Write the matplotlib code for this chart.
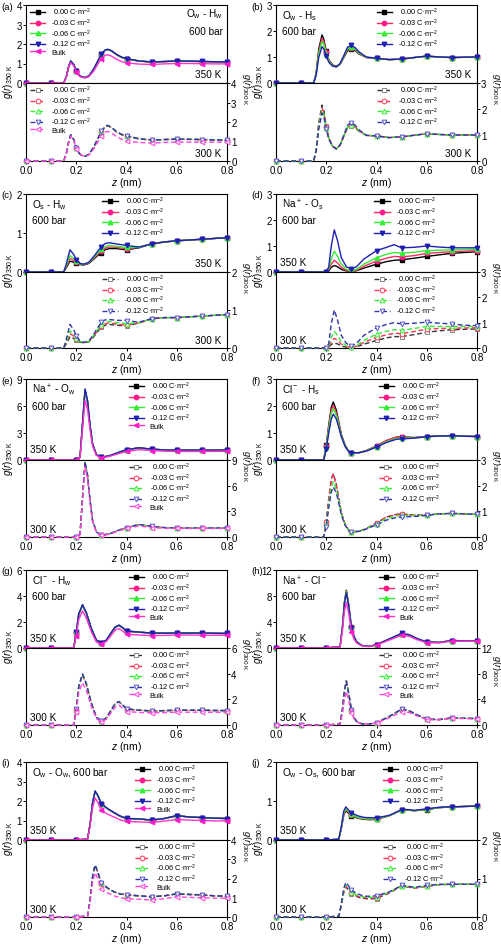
import matplotlib
matplotlib.use('Agg')
import matplotlib.pyplot as plt

plt.rcParams['font.family'] = ['Liberation Sans', 'DejaVu Sans']
plt.rcParams['mathtext.fontset'] = 'custom'
plt.rcParams['mathtext.rm'] = 'Liberation Sans'
plt.rcParams['mathtext.it'] = 'Liberation Sans:italic'

# ---------------- data ----------------
series_labels = [' 0.00 C·m$^{-2}$', '-0.03 C·m$^{-2}$', '-0.06 C·m$^{-2}$', '-0.12 C·m$^{-2}$', 'Bulk']
x_ticks = [0.0, 0.2, 0.4, 0.6, 0.8]

# (a) Ow - Hw
a_z = [0.0, 0.1, 0.15, 0.16, 0.17, 0.178, 0.19, 0.2, 0.21, 0.22, 0.235, 0.25, 0.27, 0.29, 0.3, 0.315, 0.325, 0.34, 0.36, 0.38, 0.4, 0.45, 0.5, 0.55, 0.6, 0.65, 0.7, 0.75, 0.8]
a350_000 = [0, 0, 0, 0.3, 0.85, 1.12, 0.95, 0.62, 0.42, 0.33, 0.28, 0.36, 0.72, 1.22, 1.47, 1.68, 1.72, 1.65, 1.46, 1.32, 1.24, 1.13, 1.08, 1.1, 1.13, 1.12, 1.1, 1.09, 1.08]
a350_003 = [0, 0, 0, 0.3, 0.84, 1.11, 0.94, 0.61, 0.41, 0.32, 0.28, 0.35, 0.71, 1.21, 1.46, 1.67, 1.71, 1.64, 1.45, 1.31, 1.23, 1.12, 1.07, 1.1, 1.12, 1.11, 1.1, 1.09, 1.08]
a350_006 = [0, 0, 0, 0.3, 0.85, 1.12, 0.95, 0.62, 0.42, 0.33, 0.28, 0.36, 0.72, 1.22, 1.47, 1.68, 1.72, 1.65, 1.46, 1.32, 1.24, 1.13, 1.08, 1.1, 1.13, 1.12, 1.1, 1.09, 1.08]
a350_012 = [0, 0, 0, 0.31, 0.86, 1.13, 0.96, 0.62, 0.42, 0.33, 0.28, 0.36, 0.73, 1.23, 1.48, 1.69, 1.73, 1.66, 1.47, 1.33, 1.25, 1.13, 1.08, 1.1, 1.13, 1.12, 1.11, 1.09, 1.08]
a350_bulk = [0, 0, 0, 0.28, 0.8, 1.05, 0.88, 0.56, 0.38, 0.3, 0.26, 0.32, 0.62, 1.05, 1.25, 1.42, 1.45, 1.38, 1.22, 1.1, 1.03, 0.97, 0.95, 0.98, 1.0, 1.0, 0.99, 0.98, 0.98]
a300_000 = [0, 0, 0, 0.35, 1.0, 1.34, 1.1, 0.68, 0.42, 0.3, 0.25, 0.33, 0.72, 1.25, 1.52, 1.76, 1.82, 1.72, 1.5, 1.36, 1.28, 1.14, 1.07, 1.1, 1.12, 1.11, 1.1, 1.08, 1.07]
a300_003 = [0, 0, 0, 0.35, 0.99, 1.33, 1.09, 0.67, 0.42, 0.3, 0.25, 0.33, 0.71, 1.24, 1.51, 1.75, 1.81, 1.71, 1.49, 1.35, 1.27, 1.13, 1.07, 1.1, 1.12, 1.11, 1.1, 1.08, 1.07]
a300_006 = [0, 0, 0, 0.35, 1.0, 1.34, 1.1, 0.68, 0.42, 0.3, 0.25, 0.33, 0.72, 1.25, 1.52, 1.76, 1.82, 1.72, 1.5, 1.36, 1.28, 1.14, 1.07, 1.1, 1.12, 1.11, 1.1, 1.08, 1.07]
a300_012 = [0, 0, 0, 0.36, 1.01, 1.35, 1.11, 0.68, 0.42, 0.3, 0.25, 0.33, 0.73, 1.26, 1.53, 1.77, 1.83, 1.73, 1.51, 1.37, 1.29, 1.14, 1.08, 1.1, 1.12, 1.11, 1.1, 1.08, 1.07]
a300_bulk = [0, 0, 0, 0.34, 0.97, 1.28, 1.05, 0.64, 0.4, 0.29, 0.24, 0.3, 0.63, 1.07, 1.3, 1.48, 1.52, 1.44, 1.25, 1.12, 1.02, 0.95, 0.92, 0.95, 0.97, 0.97, 0.97, 0.97, 0.97]

# (b) Ow - Hs
b_z = [0.0, 0.1, 0.15, 0.16, 0.17, 0.183, 0.19, 0.2, 0.21, 0.225, 0.24, 0.255, 0.27, 0.285, 0.3, 0.315, 0.33, 0.36, 0.4, 0.45, 0.5, 0.55, 0.6, 0.65, 0.7, 0.75, 0.8]
b350_000 = [0, 0, 0, 0.4, 1.3, 1.85, 1.7, 1.22, 0.9, 0.7, 0.64, 0.72, 0.98, 1.25, 1.32, 1.25, 1.12, 0.98, 0.95, 0.9, 0.92, 0.98, 1.03, 1.0, 0.98, 0.99, 1.0]
b350_003 = [0, 0, 0, 0.38, 1.2, 1.72, 1.6, 1.18, 0.88, 0.68, 0.62, 0.72, 1.0, 1.3, 1.36, 1.28, 1.14, 0.98, 0.95, 0.9, 0.92, 0.98, 1.03, 1.0, 0.98, 0.99, 1.0]
b350_006 = [0, 0, 0, 0.35, 1.12, 1.6, 1.5, 1.13, 0.85, 0.67, 0.62, 0.73, 1.02, 1.33, 1.39, 1.31, 1.16, 0.99, 0.95, 0.9, 0.92, 0.98, 1.03, 1.0, 0.98, 0.99, 1.0]
b350_012 = [0, 0, 0, 0.3, 0.98, 1.4, 1.32, 1.05, 0.8, 0.65, 0.62, 0.75, 1.06, 1.38, 1.45, 1.36, 1.2, 1.0, 0.95, 0.9, 0.92, 0.98, 1.04, 1.0, 0.98, 0.99, 1.0]
b300_000 = [0, 0, 0, 0.45, 1.45, 2.15, 1.95, 1.35, 0.9, 0.58, 0.47, 0.6, 0.95, 1.28, 1.35, 1.28, 1.15, 0.98, 0.97, 0.9, 0.93, 0.99, 1.05, 1.02, 1.0, 1.0, 1.0]
b300_003 = [0, 0, 0, 0.43, 1.38, 2.05, 1.87, 1.3, 0.88, 0.57, 0.47, 0.6, 0.96, 1.3, 1.37, 1.3, 1.16, 0.98, 0.97, 0.9, 0.93, 0.99, 1.05, 1.02, 1.0, 1.0, 1.0]
b300_006 = [0, 0, 0, 0.41, 1.3, 1.95, 1.8, 1.26, 0.86, 0.56, 0.46, 0.61, 0.98, 1.33, 1.4, 1.32, 1.17, 0.99, 0.97, 0.9, 0.93, 0.99, 1.05, 1.02, 1.0, 1.0, 1.0]
b300_012 = [0, 0, 0, 0.38, 1.22, 1.85, 1.72, 1.22, 0.84, 0.56, 0.46, 0.62, 1.0, 1.38, 1.48, 1.38, 1.2, 0.99, 0.96, 0.9, 0.93, 0.99, 1.05, 1.02, 1.0, 1.0, 1.0]

# (c) Os - Hw
c_z = [0.0, 0.1, 0.15, 0.16, 0.175, 0.19, 0.2, 0.215, 0.23, 0.25, 0.27, 0.29, 0.3, 0.315, 0.33, 0.36, 0.4, 0.45, 0.5, 0.55, 0.6, 0.65, 0.7, 0.75, 0.8]
c350_000 = [0, 0, 0, 0.1, 0.28, 0.25, 0.22, 0.19, 0.18, 0.22, 0.33, 0.45, 0.5, 0.57, 0.6, 0.6, 0.57, 0.62, 0.72, 0.77, 0.8, 0.82, 0.84, 0.86, 0.88]
c350_003 = [0, 0, 0, 0.12, 0.35, 0.3, 0.25, 0.2, 0.19, 0.23, 0.35, 0.48, 0.54, 0.61, 0.64, 0.63, 0.6, 0.63, 0.72, 0.77, 0.8, 0.82, 0.84, 0.86, 0.88]
c350_006 = [0, 0, 0, 0.15, 0.42, 0.35, 0.28, 0.21, 0.2, 0.24, 0.37, 0.52, 0.58, 0.65, 0.68, 0.66, 0.63, 0.63, 0.72, 0.77, 0.8, 0.82, 0.84, 0.86, 0.88]
c350_012 = [0, 0, 0, 0.2, 0.57, 0.45, 0.32, 0.22, 0.2, 0.25, 0.4, 0.57, 0.65, 0.73, 0.75, 0.72, 0.68, 0.64, 0.72, 0.77, 0.8, 0.82, 0.84, 0.86, 0.88]
c300_000 = [0, 0, 0, 0.1, 0.3, 0.25, 0.2, 0.15, 0.14, 0.16, 0.3, 0.47, 0.55, 0.6, 0.62, 0.6, 0.58, 0.66, 0.77, 0.8, 0.8, 0.82, 0.84, 0.86, 0.88]
c300_003 = [0, 0, 0, 0.13, 0.38, 0.31, 0.23, 0.16, 0.14, 0.17, 0.32, 0.5, 0.58, 0.64, 0.66, 0.63, 0.6, 0.66, 0.77, 0.8, 0.8, 0.82, 0.84, 0.86, 0.88]
c300_006 = [0, 0, 0, 0.16, 0.45, 0.36, 0.26, 0.17, 0.15, 0.17, 0.34, 0.53, 0.62, 0.68, 0.7, 0.67, 0.64, 0.67, 0.77, 0.8, 0.8, 0.82, 0.84, 0.86, 0.88]
c300_012 = [0, 0, 0, 0.22, 0.62, 0.48, 0.32, 0.18, 0.15, 0.18, 0.37, 0.58, 0.68, 0.74, 0.75, 0.73, 0.72, 0.68, 0.77, 0.8, 0.8, 0.82, 0.84, 0.86, 0.88]

# (d) Na+ - Os
d_z = [0.0, 0.1, 0.2, 0.21, 0.22, 0.232, 0.245, 0.26, 0.28, 0.3, 0.32, 0.35, 0.4, 0.44, 0.47, 0.5, 0.55, 0.6, 0.65, 0.7, 0.75, 0.8]
d350_000 = [0, 0, 0, 0.05, 0.18, 0.25, 0.2, 0.1, 0.04, 0.02, 0.05, 0.15, 0.3, 0.4, 0.45, 0.47, 0.53, 0.6, 0.66, 0.72, 0.75, 0.78]
d350_003 = [0, 0, 0, 0.08, 0.3, 0.45, 0.35, 0.18, 0.06, 0.03, 0.07, 0.22, 0.42, 0.53, 0.6, 0.58, 0.63, 0.72, 0.75, 0.78, 0.8, 0.82]
d350_006 = [0, 0, 0, 0.12, 0.5, 0.8, 0.6, 0.3, 0.1, 0.04, 0.1, 0.3, 0.55, 0.68, 0.75, 0.72, 0.76, 0.82, 0.84, 0.85, 0.86, 0.88]
d350_012 = [0, 0, 0, 0.2, 1.0, 1.62, 1.2, 0.55, 0.2, 0.12, 0.2, 0.5, 0.82, 0.95, 1.05, 0.93, 0.95, 1.0, 0.96, 0.93, 0.93, 0.93]
d300_000 = [0, 0, 0, 0.04, 0.14, 0.2, 0.16, 0.08, 0.03, 0.02, 0.05, 0.15, 0.3, 0.4, 0.45, 0.45, 0.53, 0.62, 0.68, 0.72, 0.74, 0.75]
d300_003 = [0, 0, 0, 0.07, 0.26, 0.38, 0.3, 0.15, 0.05, 0.03, 0.07, 0.22, 0.42, 0.52, 0.58, 0.57, 0.65, 0.75, 0.77, 0.78, 0.79, 0.8]
d300_006 = [0, 0, 0, 0.1, 0.42, 0.65, 0.5, 0.25, 0.08, 0.04, 0.1, 0.3, 0.55, 0.66, 0.72, 0.7, 0.77, 0.85, 0.85, 0.85, 0.85, 0.85]
d300_012 = [0, 0, 0, 0.18, 0.95, 1.5, 1.1, 0.5, 0.18, 0.08, 0.18, 0.5, 0.8, 0.93, 1.0, 0.95, 0.98, 1.02, 0.98, 0.95, 0.9, 0.88]

# (e) Na+ - Ow
e_z = [0.0, 0.1, 0.2, 0.215, 0.225, 0.235, 0.245, 0.255, 0.265, 0.28, 0.3, 0.33, 0.37, 0.4, 0.45, 0.5, 0.55, 0.6, 0.65, 0.7, 0.75, 0.8]
e350_000 = [0, 0, 0, 0.3, 4.0, 7.8, 6.5, 3.8, 1.8, 0.6, 0.3, 0.45, 0.85, 1.15, 1.35, 1.2, 1.12, 1.1, 1.1, 1.1, 1.1, 1.1]
e350_003 = [0, 0, 0, 0.3, 3.9, 7.7, 6.4, 3.7, 1.75, 0.6, 0.3, 0.45, 0.85, 1.14, 1.34, 1.2, 1.12, 1.1, 1.1, 1.1, 1.1, 1.1]
e350_006 = [0, 0, 0, 0.3, 3.95, 7.75, 6.45, 3.75, 1.78, 0.6, 0.3, 0.45, 0.85, 1.15, 1.35, 1.2, 1.12, 1.1, 1.1, 1.1, 1.1, 1.1]
e350_012 = [0, 0, 0, 0.32, 4.1, 7.9, 6.6, 3.85, 1.8, 0.6, 0.3, 0.45, 0.86, 1.15, 1.36, 1.21, 1.12, 1.1, 1.1, 1.1, 1.1, 1.1]
e350_bulk = [0, 0, 0, 0.25, 3.4, 6.6, 5.6, 3.3, 1.55, 0.5, 0.25, 0.38, 0.72, 0.95, 1.15, 1.05, 0.98, 0.95, 0.95, 0.95, 0.96, 0.97]
e300_000 = [0, 0, 0, 0.3, 4.6, 8.7, 7.2, 4.2, 1.9, 0.6, 0.2, 0.35, 0.8, 1.1, 1.45, 1.22, 1.1, 1.05, 1.05, 1.05, 1.05, 1.05]
e300_003 = [0, 0, 0, 0.3, 4.55, 8.65, 7.15, 4.15, 1.88, 0.6, 0.2, 0.35, 0.8, 1.1, 1.44, 1.22, 1.1, 1.05, 1.05, 1.05, 1.05, 1.05]
e300_006 = [0, 0, 0, 0.3, 4.6, 8.7, 7.2, 4.2, 1.9, 0.6, 0.2, 0.35, 0.8, 1.1, 1.45, 1.22, 1.1, 1.05, 1.05, 1.05, 1.05, 1.05]
e300_012 = [0, 0, 0, 0.31, 4.65, 8.8, 7.25, 4.25, 1.92, 0.6, 0.2, 0.35, 0.8, 1.1, 1.46, 1.23, 1.1, 1.05, 1.05, 1.05, 1.05, 1.05]
e300_bulk = [0, 0, 0, 0.28, 4.3, 8.2, 6.8, 4.0, 1.8, 0.55, 0.18, 0.32, 0.72, 1.0, 1.3, 1.1, 1.02, 1.0, 1.0, 1.0, 1.0, 1.0]

# (f) Cl- - Hs
f_z = [0.0, 0.1, 0.19, 0.2, 0.21, 0.22, 0.228, 0.24, 0.25, 0.26, 0.275, 0.29, 0.3, 0.33, 0.36, 0.4, 0.44, 0.48, 0.5, 0.55, 0.6, 0.65, 0.7, 0.75, 0.8]
f350_000 = [0, 0, 0, 0.55, 1.3, 1.95, 2.15, 1.85, 1.4, 0.95, 0.55, 0.32, 0.27, 0.27, 0.35, 0.52, 0.72, 0.85, 0.86, 0.83, 0.87, 0.89, 0.9, 0.88, 0.87]
f350_003 = [0, 0, 0, 0.52, 1.25, 1.85, 2.02, 1.75, 1.35, 0.92, 0.53, 0.31, 0.27, 0.27, 0.35, 0.52, 0.72, 0.85, 0.86, 0.83, 0.87, 0.89, 0.9, 0.88, 0.87]
f350_006 = [0, 0, 0, 0.48, 1.15, 1.72, 1.9, 1.65, 1.28, 0.9, 0.52, 0.31, 0.27, 0.27, 0.34, 0.5, 0.68, 0.8, 0.82, 0.82, 0.86, 0.89, 0.9, 0.88, 0.87]
f350_012 = [0, 0, 0, 0.4, 1.0, 1.52, 1.7, 1.52, 1.2, 0.86, 0.5, 0.3, 0.27, 0.27, 0.33, 0.48, 0.65, 0.77, 0.78, 0.81, 0.86, 0.89, 0.9, 0.88, 0.87]
f300_000 = [0, 0, 0, 0.6, 1.5, 2.25, 2.48, 2.05, 1.5, 0.95, 0.5, 0.25, 0.2, 0.22, 0.33, 0.55, 0.78, 0.88, 0.9, 0.85, 0.86, 0.9, 0.92, 0.9, 0.88]
f300_003 = [0, 0, 0, 0.6, 1.48, 2.22, 2.45, 2.02, 1.48, 0.94, 0.5, 0.25, 0.2, 0.22, 0.33, 0.55, 0.78, 0.88, 0.9, 0.85, 0.86, 0.9, 0.92, 0.9, 0.88]
f300_006 = [0, 0, 0, 0.5, 1.3, 1.95, 2.15, 1.85, 1.4, 0.9, 0.48, 0.25, 0.2, 0.22, 0.32, 0.52, 0.72, 0.82, 0.84, 0.83, 0.85, 0.9, 0.92, 0.9, 0.88]
f300_012 = [0, 0, 0, 0.4, 1.15, 1.75, 1.95, 1.72, 1.32, 0.86, 0.46, 0.24, 0.2, 0.22, 0.31, 0.48, 0.66, 0.76, 0.78, 0.8, 0.84, 0.9, 0.92, 0.9, 0.88]

# (g) Cl- - Hw
g_z = [0.0, 0.1, 0.19, 0.2, 0.21, 0.225, 0.24, 0.26, 0.28, 0.3, 0.32, 0.34, 0.355, 0.37, 0.385, 0.4, 0.45, 0.5, 0.55, 0.6, 0.65, 0.7, 0.75, 0.8]
g350_000 = [0, 0, 0, 1.2, 2.6, 3.3, 2.7, 1.5, 0.6, 0.4, 0.6, 1.2, 1.6, 1.75, 1.55, 1.3, 1.22, 1.15, 1.14, 1.15, 1.15, 1.15, 1.13, 1.12]
g350_003 = [0, 0, 0, 1.18, 2.57, 3.27, 2.68, 1.49, 0.6, 0.4, 0.6, 1.19, 1.59, 1.74, 1.54, 1.29, 1.21, 1.15, 1.14, 1.15, 1.15, 1.15, 1.13, 1.12]
g350_006 = [0, 0, 0, 1.2, 2.6, 3.3, 2.7, 1.5, 0.6, 0.4, 0.6, 1.2, 1.6, 1.75, 1.55, 1.3, 1.22, 1.15, 1.14, 1.15, 1.15, 1.15, 1.13, 1.12]
g350_012 = [0, 0, 0, 1.22, 2.63, 3.33, 2.72, 1.51, 0.61, 0.41, 0.61, 1.21, 1.61, 1.76, 1.56, 1.31, 1.22, 1.15, 1.14, 1.15, 1.15, 1.15, 1.13, 1.12]
g350_bulk = [0, 0, 0, 0.95, 2.2, 2.85, 2.3, 1.25, 0.45, 0.3, 0.5, 1.0, 1.38, 1.5, 1.3, 1.05, 1.0, 0.95, 0.97, 1.0, 1.0, 0.98, 0.98, 0.98]
g300_000 = [0, 0, 0, 1.2, 3.0, 3.95, 3.2, 1.7, 0.6, 0.3, 0.55, 1.2, 1.65, 1.82, 1.55, 1.25, 1.15, 1.1, 1.12, 1.15, 1.15, 1.15, 1.13, 1.12]
g300_003 = [0, 0, 0, 1.18, 2.97, 3.92, 3.18, 1.69, 0.6, 0.3, 0.55, 1.19, 1.64, 1.81, 1.54, 1.25, 1.15, 1.1, 1.12, 1.15, 1.15, 1.15, 1.13, 1.12]
g300_006 = [0, 0, 0, 1.2, 3.0, 3.95, 3.2, 1.7, 0.6, 0.3, 0.55, 1.2, 1.65, 1.82, 1.55, 1.25, 1.15, 1.1, 1.12, 1.15, 1.15, 1.15, 1.13, 1.12]
g300_012 = [0, 0, 0, 1.22, 3.03, 3.98, 3.22, 1.71, 0.61, 0.31, 0.56, 1.21, 1.66, 1.83, 1.56, 1.26, 1.15, 1.1, 1.12, 1.15, 1.15, 1.15, 1.13, 1.12]
g300_bulk = [0, 0, 0, 1.0, 2.55, 3.3, 2.7, 1.45, 0.5, 0.25, 0.45, 1.0, 1.4, 1.55, 1.3, 1.05, 0.98, 0.95, 0.97, 1.0, 1.0, 1.0, 0.99, 0.99]

# (h) Na+ - Cl-
h_z = [0.0, 0.1, 0.2, 0.255, 0.265, 0.272, 0.28, 0.29, 0.3, 0.31, 0.32, 0.34, 0.37, 0.4, 0.45, 0.5, 0.53, 0.56, 0.6, 0.65, 0.7, 0.75, 0.8]
h350_000 = [0, 0, 0, 0.2, 3.5, 7.0, 8.9, 6.5, 3.2, 1.8, 1.0, 0.4, 0.25, 0.5, 1.35, 2.2, 2.0, 1.45, 0.9, 0.85, 1.15, 1.1, 1.1]
h350_003 = [0, 0, 0, 0.2, 3.45, 6.9, 8.8, 6.45, 3.2, 1.8, 1.0, 0.4, 0.25, 0.5, 1.35, 2.2, 2.0, 1.45, 0.9, 0.85, 1.15, 1.1, 1.1]
h350_006 = [0, 0, 0, 0.2, 3.4, 6.85, 8.7, 6.4, 3.2, 1.8, 1.0, 0.4, 0.25, 0.5, 1.35, 2.2, 2.0, 1.45, 0.9, 0.85, 1.15, 1.1, 1.1]
h350_012 = [0, 0, 0, 0.2, 3.3, 6.7, 8.5, 6.3, 3.15, 1.78, 1.0, 0.4, 0.25, 0.5, 1.38, 2.25, 2.05, 1.48, 0.92, 0.86, 1.15, 1.1, 1.1]
h350_bulk = [0, 0, 0, 0.15, 2.8, 5.6, 7.0, 5.2, 2.5, 1.4, 0.8, 0.35, 0.22, 0.45, 1.2, 1.95, 1.8, 1.3, 0.8, 0.8, 1.05, 1.05, 1.05]
h300_000 = [0, 0, 0, 0.15, 2.6, 5.3, 6.9, 4.8, 2.4, 1.2, 0.6, 0.2, 0.15, 0.35, 1.3, 2.45, 2.2, 1.6, 0.9, 0.85, 1.1, 1.05, 1.0]
h300_003 = [0, 0, 0, 0.15, 2.58, 5.25, 6.85, 4.78, 2.4, 1.2, 0.6, 0.2, 0.15, 0.35, 1.3, 2.45, 2.2, 1.6, 0.9, 0.85, 1.1, 1.05, 1.0]
h300_006 = [0, 0, 0, 0.15, 2.58, 5.25, 6.85, 4.78, 2.4, 1.2, 0.6, 0.2, 0.15, 0.35, 1.3, 2.45, 2.2, 1.6, 0.9, 0.85, 1.1, 1.05, 1.0]
h300_012 = [0, 0, 0, 0.15, 2.55, 5.2, 6.8, 4.75, 2.4, 1.2, 0.6, 0.2, 0.15, 0.35, 1.32, 2.48, 2.22, 1.62, 0.9, 0.85, 1.1, 1.05, 1.0]
h300_bulk = [0, 0, 0, 0.12, 2.0, 4.0, 5.2, 3.7, 1.9, 1.0, 0.5, 0.18, 0.13, 0.3, 1.1, 2.1, 1.95, 1.45, 0.85, 0.8, 1.05, 1.0, 1.0]

# (i) Ow - Ow
i_z = [0.0, 0.1, 0.2, 0.245, 0.255, 0.265, 0.275, 0.285, 0.3, 0.325, 0.35, 0.375, 0.4, 0.45, 0.5, 0.55, 0.6, 0.65, 0.7, 0.75, 0.8]
i350_000 = [0, 0, 0, 0.05, 0.8, 1.9, 2.5, 2.3, 1.85, 1.6, 1.4, 1.22, 1.1, 1.08, 1.02, 1.1, 1.25, 1.18, 1.15, 1.12, 1.1]
i350_003 = [0, 0, 0, 0.05, 0.79, 1.88, 2.48, 2.28, 1.84, 1.59, 1.39, 1.21, 1.1, 1.08, 1.02, 1.1, 1.24, 1.18, 1.15, 1.12, 1.1]
i350_006 = [0, 0, 0, 0.05, 0.8, 1.9, 2.5, 2.3, 1.85, 1.6, 1.4, 1.22, 1.1, 1.08, 1.02, 1.1, 1.25, 1.18, 1.15, 1.12, 1.1]
i350_012 = [0, 0, 0, 0.05, 0.81, 1.91, 2.51, 2.31, 1.86, 1.61, 1.41, 1.23, 1.11, 1.08, 1.02, 1.1, 1.25, 1.18, 1.15, 1.12, 1.1]
i350_bulk = [0, 0, 0, 0.04, 0.7, 1.65, 2.15, 1.95, 1.52, 1.32, 1.18, 1.03, 0.95, 0.93, 0.9, 0.97, 1.05, 1.02, 1.0, 0.98, 0.98]
i300_000 = [0, 0, 0, 0.05, 0.9, 2.1, 2.7, 2.35, 1.75, 1.5, 1.3, 1.2, 1.15, 1.1, 1.05, 1.1, 1.2, 1.17, 1.15, 1.1, 1.08]
i300_003 = [0, 0, 0, 0.05, 0.89, 2.08, 2.68, 2.33, 1.74, 1.49, 1.3, 1.2, 1.15, 1.1, 1.05, 1.1, 1.2, 1.17, 1.15, 1.1, 1.08]
i300_006 = [0, 0, 0, 0.05, 0.9, 2.1, 2.7, 2.35, 1.75, 1.5, 1.3, 1.2, 1.15, 1.1, 1.05, 1.1, 1.2, 1.17, 1.15, 1.1, 1.08]
i300_012 = [0, 0, 0, 0.05, 0.91, 2.11, 2.71, 2.36, 1.76, 1.51, 1.31, 1.2, 1.15, 1.1, 1.05, 1.1, 1.2, 1.17, 1.15, 1.1, 1.08]
i300_bulk = [0, 0, 0, 0.04, 0.75, 1.8, 2.3, 2.0, 1.45, 1.25, 1.1, 1.0, 0.95, 0.92, 0.88, 0.95, 1.05, 1.02, 1.0, 0.98, 0.98]

# (j) Ow - Os
j_z = [0.0, 0.1, 0.2, 0.25, 0.26, 0.27, 0.278, 0.29, 0.3, 0.325, 0.35, 0.375, 0.4, 0.45, 0.5, 0.525, 0.55, 0.6, 0.65, 0.7, 0.75, 0.8]
j350_000 = [0, 0, 0, 0.02, 0.3, 0.65, 0.75, 0.68, 0.62, 0.56, 0.53, 0.52, 0.53, 0.62, 0.77, 0.77, 0.75, 0.78, 0.83, 0.85, 0.86, 0.87]
j350_003 = [0, 0, 0, 0.02, 0.31, 0.67, 0.78, 0.7, 0.64, 0.57, 0.54, 0.53, 0.54, 0.62, 0.77, 0.77, 0.75, 0.79, 0.83, 0.85, 0.86, 0.87]
j350_006 = [0, 0, 0, 0.02, 0.32, 0.7, 0.8, 0.72, 0.66, 0.58, 0.55, 0.54, 0.55, 0.62, 0.77, 0.77, 0.75, 0.79, 0.83, 0.85, 0.86, 0.87]
j350_012 = [0, 0, 0, 0.02, 0.35, 0.75, 0.85, 0.76, 0.7, 0.62, 0.58, 0.57, 0.57, 0.63, 0.78, 0.78, 0.76, 0.8, 0.84, 0.85, 0.86, 0.87]
j300_000 = [0, 0, 0, 0.02, 0.3, 0.65, 0.78, 0.7, 0.6, 0.52, 0.48, 0.47, 0.48, 0.62, 0.8, 0.78, 0.75, 0.8, 0.84, 0.85, 0.85, 0.85]
j300_003 = [0, 0, 0, 0.02, 0.31, 0.67, 0.8, 0.72, 0.62, 0.54, 0.5, 0.49, 0.5, 0.63, 0.8, 0.78, 0.75, 0.8, 0.84, 0.85, 0.85, 0.85]
j300_006 = [0, 0, 0, 0.02, 0.32, 0.7, 0.84, 0.75, 0.65, 0.56, 0.52, 0.51, 0.52, 0.64, 0.81, 0.79, 0.76, 0.81, 0.84, 0.85, 0.85, 0.85]
j300_012 = [0, 0, 0, 0.02, 0.35, 0.75, 0.9, 0.8, 0.7, 0.6, 0.54, 0.54, 0.55, 0.65, 0.82, 0.8, 0.77, 0.82, 0.85, 0.85, 0.85, 0.85]

# ---------------- style ----------------
W, H = 501, 945
top_colors = ['#000000', '#FF2A5F', '#33EE33', '#1F1FB4', '#FF33CC']
top_mfc = ['#000000', '#FF1A8C', '#33EE33', '#1F1FB4', '#FF1ACC']
bot_colors = ['#333333', '#FF3355', '#33EE33', '#3333AA', '#FF44DD']
bot_mec = ['#888888', '#FF3355', '#33EE33', '#5555CC', '#FF44DD']
top_markers = ['s', 'o', '^', 'v', '<']
bot_markers = ['s', 'o', '^', 'v', '<']

panels = [
    dict(tag='(a)', z=a_z, top=[a350_000, a350_003, a350_006, a350_012, a350_bulk],
         bot=[a300_000, a300_003, a300_006, a300_012, a300_bulk], ymax=4, yt=[0, 1, 2, 3, 4],
         title=['O$_\\mathrm{w}$ - H$_\\mathrm{w}$', '600 bar'], tside='right', kside='right', legx=0.02),
    dict(tag='(b)', z=b_z, top=[b350_000, b350_003, b350_006, b350_012],
         bot=[b300_000, b300_003, b300_006, b300_012], ymax=3, yt=[0, 1, 2, 3],
         title=['O$_\\mathrm{w}$ - H$_\\mathrm{s}$', '600 bar'], tside='left', kside='right', legx=0.50),
    dict(tag='(c)', z=c_z, top=[c350_000, c350_003, c350_006, c350_012],
         bot=[c300_000, c300_003, c300_006, c300_012], ymax=2, yt=[0, 1, 2],
         title=['O$_\\mathrm{s}$ - H$_\\mathrm{w}$', '600 bar'], tside='left', kside='right', legx=0.38),
    dict(tag='(d)', z=d_z, top=[d350_000, d350_003, d350_006, d350_012],
         bot=[d300_000, d300_003, d300_006, d300_012], ymax=3, yt=[0, 1, 2, 3],
         title=['Na$^+$ - O$_\\mathrm{s}$', '600 bar'], tside='left', kside='left', legx=0.49),
    dict(tag='(e)', z=e_z, top=[e350_000, e350_003, e350_006, e350_012, e350_bulk],
         bot=[e300_000, e300_003, e300_006, e300_012, e300_bulk], ymax=9, yt=[0, 3, 6, 9],
         title=['Na$^+$ - O$_\\mathrm{w}$', '600 bar'], tside='left', kside='left', legx=0.51),
    dict(tag='(f)', z=f_z, top=[f350_000, f350_003, f350_006, f350_012],
         bot=[f300_000, f300_003, f300_006, f300_012], ymax=3, yt=[0, 1, 2, 3],
         title=['Cl$^-$ - H$_\\mathrm{s}$', '600 bar'], tside='left', kside='left', legx=0.51),
    dict(tag='(g)', z=g_z, top=[g350_000, g350_003, g350_006, g350_012, g350_bulk],
         bot=[g300_000, g300_003, g300_006, g300_012, g300_bulk], ymax=6, yt=[0, 2, 4, 6],
         title=['Cl$^-$ - H$_\\mathrm{w}$', '600 bar'], tside='left', kside='left', legx=0.51),
    dict(tag='(h)', z=h_z, top=[h350_000, h350_003, h350_006, h350_012, h350_bulk],
         bot=[h300_000, h300_003, h300_006, h300_012, h300_bulk], ymax=12, yt=[0, 4, 8, 12],
         title=['Na$^+$ - Cl$^-$', '600 bar'], tside='left', kside='left', legx=0.51, ry=22),
    dict(tag='(i)', z=i_z, top=[i350_000, i350_003, i350_006, i350_012, i350_bulk],
         bot=[i300_000, i300_003, i300_006, i300_012, i300_bulk], ymax=4, yt=[0, 1, 2, 3, 4],
         title=['O$_\\mathrm{w}$ - O$_\\mathrm{w}$, 600 bar'], tside='left', kside='left', legx=0.54),
    dict(tag='(j)', z=j_z, top=[j350_000, j350_003, j350_006, j350_012],
         bot=[j300_000, j300_003, j300_006, j300_012], ymax=2, yt=[0, 1, 2],
         title=['O$_\\mathrm{w}$ - O$_\\mathrm{s}$, 600 bar'], tside='left', kside='left', legx=0.53),
]

rows_px = [(6, 84, 162), (195, 273, 349), (380, 461, 538), (571, 649, 726), (763, 841, 918)]
cols_px = [(26, 227), (276, 477)]

fig = plt.figure(figsize=(W / 100, H / 100), dpi=100)


def rect(x0, x1, y0, y1):
    return [x0 / W, 1 - y1 / H, (x1 - x0) / W, (y1 - y0) / H]


def mark_idx(z):
    return [k for k, v in enumerate(z) if abs(v * 10 - round(v * 10)) < 1e-6]


fs_tick = 7
fs_leg = 5.3
fs_txt = 7.2
leg_kw = dict(loc='upper left', frameon=False, fontsize=fs_leg, handlelength=2.1,
              handletextpad=0.8, labelspacing=-0.08, borderpad=0, borderaxespad=0)

for n, p in enumerate(panels):
    r, c = divmod(n, 2)
    t, m, b = rows_px[r]
    x0, x1 = cols_px[c]
    ax_t = fig.add_axes(rect(x0, x1, t, m))
    ax_b = fig.add_axes(rect(x0, x1, m, b))
    z = p['z']
    mi = mark_idx(z)
    for k, y in enumerate(p['top']):
        ax_t.plot(z, y, color=top_colors[k], lw=1.0, marker=top_markers[k], ms=3.2,
                  mfc=top_mfc[k], mec=top_mfc[k], markevery=mi, clip_on=False,
                  label=series_labels[k], zorder=3)
    for k, y in enumerate(p['bot']):
        ax_b.plot(z, y, color=bot_colors[k], lw=1.0, ls=(0, (3.5, 2)), marker=bot_markers[k], ms=3.4,
                  mfc='white', mec=bot_mec[k], mew=0.7, markevery=mi, clip_on=False,
                  label=series_labels[k], zorder=3)
    for ax in (ax_t, ax_b):
        ax.set_xlim(0, 0.8)
        ax.set_ylim(0, p['ymax'])
        ax.set_yticks(p['yt'])
        ax.set_xticks(x_ticks)
        for s in ax.spines.values():
            s.set_linewidth(0.8)
        ax.tick_params(direction='out', length=2, width=0.7, labelsize=fs_tick, pad=1)
    ax_t.tick_params(axis='x', bottom=False, labelbottom=False)
    ax_t.tick_params(axis='y', left=True, right=False, labelleft=True)
    ax_b.tick_params(axis='y', left=False, labelleft=False, right=True, labelright=True)
    ax_b.set_xticklabels(['%.1f' % v for v in x_ticks])
    ax_b.set_xlabel('$z$ (nm)', fontsize=7.5, labelpad=0)

    ax_t.legend(bbox_to_anchor=(p['legx'], 0.99), **leg_kw)
    ax_b.legend(bbox_to_anchor=(p['legx'], 0.99), **leg_kw)

    if p['tside'] == 'right':
        for q, line in enumerate(p['title']):
            ax_t.text(0.98, 0.9 - q * 0.23, line, transform=ax_t.transAxes, ha='right', va='center', fontsize=fs_txt)
    else:
        for q, line in enumerate(p['title']):
            ax_t.text(0.03, 0.87 - q * 0.2, line, transform=ax_t.transAxes, ha='left', va='center', fontsize=fs_txt)

    if p['kside'] == 'right':
        ax_t.text(0.97, 0.12, '350 K', transform=ax_t.transAxes, ha='right', va='center', fontsize=fs_txt)
        ax_b.text(0.97, 0.1, '300 K', transform=ax_b.transAxes, ha='right', va='center', fontsize=fs_txt)
    else:
        ax_t.text(0.02, 0.13, '350 K', transform=ax_t.transAxes, ha='left', va='center', fontsize=fs_txt)
        ax_b.text(0.02, 0.1, '300 K', transform=ax_b.transAxes, ha='left', va='center', fontsize=fs_txt)

    fig.text((x0 - 25) / W, 1 - (t + 1) / H, p['tag'], ha='left', va='center', fontsize=6.8)
    fig.text((x0 - 18) / W, 1 - (m - 2) / H, '$g$($r$)$_{\\mathrm{350\\ K}}$', rotation=90,
             ha='center', va='center', fontsize=7)
    fig.text((x1 + 19) / W, 1 - (m + p.get('ry', 5)) / H, '$g$($r$)$_{\\mathrm{300\\ K}}$', rotation=270,
             ha='center', va='center', fontsize=6.6)

fig.savefig('out.png', dpi=100)
